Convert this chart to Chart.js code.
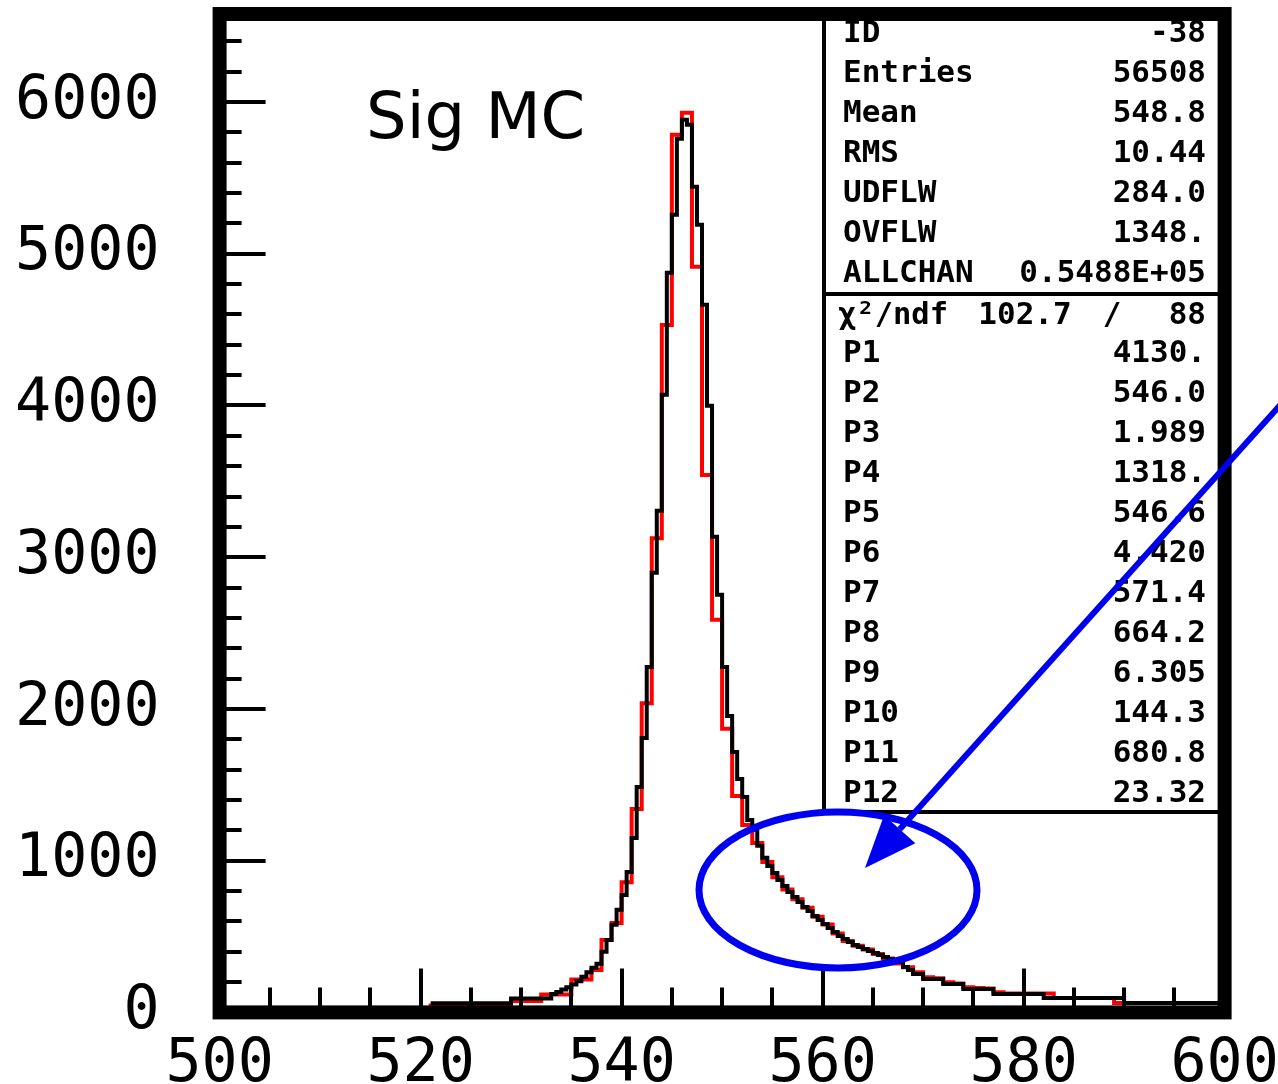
<!DOCTYPE html>
<html>
<head>
<meta charset="utf-8">
<script src="https://cdn.jsdelivr.net/npm/chart.js@4.4.0/dist/chart.umd.min.js"></script>
<style>
  html, body { margin: 0; padding: 0; background: #fff; }
</style>
</head>
<body>
<canvas id="histo" width="1278" height="1084"></canvas>
<script>
// Sig MC: histogram (red, 1-unit bins) and fit (black, 0.5-unit steps)
const redStart = 520;
const redCounts = [
  0, 45, 45, 45, 45, 45, 45, 45, 45, 75,            // 520-529
  75, 75, 118, 118, 118, 217, 217, 280, 477, 590,    // 530-539
  857, 1341, 2037, 3125, 4531, 5784, 5929, 4914, 3542, 2587, // 540-549
  1869, 1426, 1235, 1117, 992, 890, 810, 745, 690, 630,      // 550-559
  580, 520, 470, 440, 415, 385, 355, 323, 297, 264,  // 560-569
  231, 225, 198, 190, 165, 160, 158, 132, 125, 125,  // 570-579
  125, 125, 125, 95, 95, 95, 95, 95, 95, 62,         // 580-589
  0                                                  // 590
];

const fitStart = 521;
const fitCounts = [
  60, 60, 60, 60, 60, 60, 60, 60, 60, 60,
  60, 60, 60, 60, 60, 60, 92, 92, 92, 92,
  92, 92, 92, 92, 121, 135, 151, 165, 184, 205,
  235, 265, 295, 320, 400, 477, 577, 676, 774, 926,
  1150, 1486, 1809, 2277, 2897, 3306, 4070, 4875, 5257, 5758,
  5883, 5850, 5441, 5191, 4664, 3998, 3134, 2752, 2277, 1954,
  1717, 1539, 1420, 1268, 1203, 1098, 1019, 965, 919, 873,
  833, 794, 761, 728, 695, 668, 636, 609, 583, 557,
  530, 504, 484, 464, 444, 431, 418, 405, 392, 378,
  365, 352, 345, 332, 299, 280, 253, 253, 220, 220,
  220, 220, 187, 187, 187, 187, 154, 154, 154, 154,
  154, 154, 121, 121, 121, 121, 121, 121, 121, 121,
  121, 121, 95, 95, 95, 95, 95, 95, 95, 95,
  95, 95, 95, 95, 95, 95, 95, 95, 62, 62,
  62, 62, 62, 62, 62, 62, 62, 62, 62, 62,
  62, 62, 62, 62, 62, 62, 62, 62
];

const xTickLabels = [500, 520, 540, 560, 580, 600];
const yTickLabels = [0, 1000, 2000, 3000, 4000, 5000, 6000];
const xMinorStep = 5;
const yMinorStep = 200;
const yTop = 6580;

const statLabels = ['ID', 'Entries', 'Mean', 'RMS', 'UDFLW', 'OVFLW', 'ALLCHAN'];
const statValues = ['-38', '56508', '548.8', '10.44', '284.0', '1348.', '0.5488E+05'];
const chiText = ['χ²/ndf', '102.7', '/', '88'];
const parLabels = ['P1', 'P2', 'P3', 'P4', 'P5', 'P6', 'P7', 'P8', 'P9', 'P10', 'P11', 'P12'];
const parValues = ['4130.', '546.0', '1.989', '1318.', '546.6', '4.420', '571.4', '664.2', '6.305', '144.3', '680.8', '23.32'];

// step points: left edge of each bin + closing right edge
const redPts = redCounts.map((v, i) => ({ x: redStart + i, y: v }));
redPts.push({ x: redStart + redCounts.length, y: 0 });
const fitPts = fitCounts.map((v, i) => ({ x: fitStart + i * 0.5, y: v }));
fitPts.push({ x: fitStart + fitCounts.length * 0.5, y: fitCounts[fitCounts.length - 1] });

const pawPlugin = {
  id: 'paw',
  afterDraw(chart) {
    const ctx = chart.ctx;
    const a = chart.chartArea;
    const xs = chart.scales.x, ys = chart.scales.y;
    ctx.save();

    // stats box
    const boxL = 824, boxDiv = 294, boxB = 812;
    ctx.fillStyle = '#000';
    ctx.font = 'bold 31px "DejaVu Sans Mono"';
    ctx.textBaseline = 'middle';
    statLabels.forEach((t, i) => {
      const y = 34 + i * 40;
      ctx.textAlign = 'left';
      ctx.fillText(t, 843, y, 135);
      ctx.textAlign = 'right';
      ctx.fillText(statValues[i], 1206, y);
    });
    ctx.textAlign = 'left';
    ctx.fillText(chiText[0], 838, 316, 110);
    ctx.textAlign = 'center';
    ctx.fillText(chiText[1], 1025, 316);
    ctx.fillText(chiText[2], 1112, 316);
    ctx.textAlign = 'right';
    ctx.fillText(chiText[3], 1206, 316);
    parLabels.forEach((t, i) => {
      const y = 354 + i * 40;
      ctx.textAlign = 'left';
      ctx.fillText(t, 843, y);
      ctx.textAlign = 'right';
      ctx.fillText(parValues[i], 1206, y);
    });
    ctx.strokeStyle = '#000';
    ctx.lineWidth = 4;
    ctx.beginPath();
    ctx.moveTo(boxL, a.top); ctx.lineTo(boxL, boxB);
    ctx.moveTo(boxL, boxDiv); ctx.lineTo(a.right, boxDiv);
    ctx.moveTo(boxL, boxB); ctx.lineTo(a.right, boxB);
    ctx.stroke();

    // ticks inside the frame
    ctx.lineWidth = 4;
    ctx.beginPath();
    for (let v = yMinorStep; v < yTop; v += yMinorStep) {
      const y = Math.round(ys.getPixelForValue(v));
      const len = yTickLabels.includes(v) ? 46 : 22;
      ctx.moveTo(a.left, y); ctx.lineTo(a.left + len, y);
    }
    for (let v = 500 + xMinorStep; v < 600; v += xMinorStep) {
      const x = Math.round(xs.getPixelForValue(v));
      const len = xTickLabels.includes(v) ? 44 : 25;
      ctx.moveTo(x, a.bottom); ctx.lineTo(x, a.bottom - len);
    }
    ctx.stroke();

    // thick frame
    ctx.lineWidth = 14;
    ctx.strokeRect(a.left, a.top, a.right - a.left, a.bottom - a.top);

    // label
    ctx.font = '64px "DejaVu Sans"';
    ctx.textAlign = 'left';
    ctx.textBaseline = 'alphabetic';
    ctx.fillText('Sig MC', 366, 138);

    // blue annotation: ellipse + arrow
    const blue = 'rgb(0,0,240)';
    ctx.strokeStyle = blue;
    ctx.fillStyle = blue;
    ctx.lineWidth = 7;
    ctx.beginPath();
    ctx.ellipse(838, 890, 139, 78, 0, 0, Math.PI * 2);
    ctx.stroke();

    const tipX = 865, tipY = 868, slope = -1.115;
    const n = Math.hypot(1, slope);
    const dx = 1 / n, dy = slope / n;
    const headLen = 52, headW = 21;
    const bx = tipX + dx * headLen, by = tipY + dy * headLen;
    ctx.lineWidth = 6;
    ctx.beginPath();
    ctx.moveTo(bx, by);
    ctx.lineTo(1300, tipY + (1300 - tipX) * slope);
    ctx.stroke();
    ctx.beginPath();
    ctx.moveTo(tipX, tipY);
    ctx.lineTo(bx - dy * headW, by + dx * headW);
    ctx.lineTo(bx + dy * headW, by - dx * headW);
    ctx.closePath();
    ctx.fill();

    ctx.restore();
  }
};

new Chart(document.getElementById('histo'), {
  type: 'line',
  data: {
    datasets: [
      { label: 'fit', data: fitPts, borderColor: '#000', borderWidth: 4, stepped: 'before',
        pointRadius: 0, fill: false, tension: 0, borderJoinStyle: 'miter' },
      { label: 'Sig MC', data: redPts, borderColor: '#ff0000', borderWidth: 4, stepped: 'before',
        pointRadius: 0, fill: false, tension: 0, borderJoinStyle: 'miter' }
    ]
  },
  options: {
    responsive: false,
    animation: false,
    devicePixelRatio: 1,
    layout: { padding: { left: 15, right: 53.4, top: 14, bottom: 0 } },
    plugins: { legend: { display: false }, tooltip: { enabled: false } },
    scales: {
      x: {
        type: 'linear', min: 500, max: 600,
        grid: { display: false, drawTicks: false },
        border: { display: false },
        afterBuildTicks: s => { s.ticks = xTickLabels.map(v => ({ value: v })); },
        afterFit: s => { s.height = 71.6; s.paddingLeft = 0; s.paddingRight = 0; },
        ticks: {
          font: { family: 'DejaVu Sans Mono', size: 60 }, color: '#000',
          padding: 17, maxRotation: 0, autoSkip: false,
          callback: v => String(v)
        }
      },
      y: {
        type: 'linear', min: 0, max: yTop,
        grid: { display: false, drawTicks: false },
        border: { display: false },
        afterBuildTicks: s => { s.ticks = yTickLabels.map(v => ({ value: v })); },
        afterFit: s => { s.width = 204.6; s.paddingTop = 0; s.paddingBottom = 0; },
        ticks: {
          font: { family: 'DejaVu Sans Mono', size: 60 }, color: '#000',
          padding: 60, autoSkip: false,
          callback: v => String(v)
        }
      }
    }
  },
  plugins: [pawPlugin]
});
</script>
</body>
</html>
